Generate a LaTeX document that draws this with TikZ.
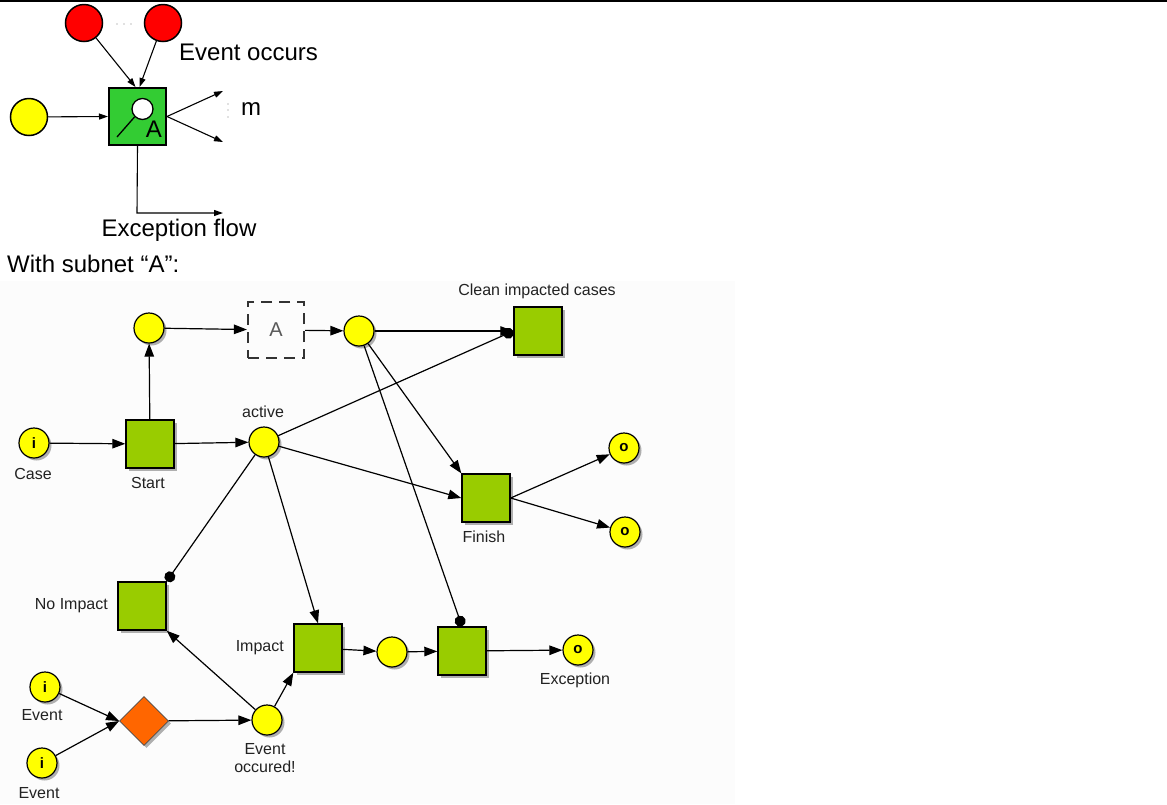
\documentclass[tikz,border=0pt]{standalone}
\usepackage{fontspec}
\setmainfont{Liberation Sans}
\usetikzlibrary{arrows.meta,shadows,shapes.geometric,calc}
\definecolor{pyellow}{HTML}{FFFF00}
\definecolor{tgreen}{HTML}{99CC00}
\definecolor{bgreen}{HTML}{33CC33}
\definecolor{pred}{HTML}{FF0000}
\definecolor{porange}{HTML}{FF6600}
\definecolor{lbl}{HTML}{222222}
\tikzset{
  big/.style={font=\fontsize{24}{27}\selectfont},
  small/.style={font=\fontsize{16}{18}\selectfont, text=lbl, inner sep=0pt},
  bigplace/.style={circle, draw=black, line width=1.5pt, minimum size=37pt, inner sep=0pt},
  toparrow/.style={line width=1.1pt, -{Triangle[length=9pt,width=6pt]}},
  shad/.style={drop shadow={shadow xshift=2.5pt,shadow yshift=-2.5pt,opacity=0.3,fill=black}},
  place/.style={circle, draw=black, line width=1.2pt, fill=pyellow, minimum size=30pt, inner sep=0pt, shad},
  ioplace/.style={place, font=\fontsize{15}{15}\selectfont\bfseries},
  trans/.style={rectangle, draw=black, line width=1.4pt, fill=tgreen, minimum size=48pt, inner sep=0pt, shad},
  arc/.style={line width=1.2pt, -{Triangle[length=13pt,width=9.5pt]}},
  resetarc/.style={line width=1.2pt, -{Circle[length=11pt]}},
}
\begin{document}
\begin{tikzpicture}[x=1pt,y=-1pt]
\useasboundingbox (0,0) rectangle (1167,804);
\fill[white] (0,0) rectangle (1167,804);
% rule at the top
\draw[line width=2pt] (0,1) -- (1167,1);

% ---------- composite task with exception flow ----------
\node[bigplace, fill=pred] (r1) at (84,23) {};
\node[bigplace, fill=pred] (r2) at (163,23) {};
\foreach \x in {117,124,131} \fill[gray] (\x,24) circle (0.7pt);
\node[bigplace, fill=pyellow] (y0) at (29,117) {};
\node[rectangle, draw=black, line width=2pt, fill=bgreen, minimum size=57pt, inner sep=0pt] (ta) at (137.5,116.5) {};
\node[circle, draw=black, line width=1.3pt, fill=white, minimum size=21pt, inner sep=0pt] (lens) at (142.5,109) {};
\draw[line width=1.3pt] (lens.225) -- (117,137);
\node[big, inner sep=0pt] (la) at (154,129) {A};
\draw[toparrow] (y0) -- (ta.west);
\draw[toparrow] (r1) -- ($(ta.north)+(-2,0)$);
\draw[toparrow] (r2) -- ($(ta.north)+(2,0)$);
\coordinate (m1) at (223,91);
\coordinate (m2) at (223,142);
\draw[toparrow] (ta.east) -- (m1);
\draw[toparrow] (ta.east) -- (m2);
\foreach \y in {104,110,117} \fill[gray] (228,\y) circle (0.6pt);
\node[big, anchor=west, inner sep=0pt] (mlab) at (241,109) {m};
\node[big, anchor=west, inner sep=0pt] (evlab) at (179,52) {Event occurs};
\coordinate (bend) at (137,213);
\coordinate (exend) at (223,213);
\draw[toparrow] (ta.south) -- (bend) -- (exend);
\node[big, inner sep=0pt] (exflow) at (179,230) {Exception flow};
\node[big, anchor=west, inner sep=0pt] (withsub) at (7,264) {With subnet “A”:};

% ---------- subnet A ----------
\fill[black!1] (0,281) rectangle (735,804);

\node[place] (p1) at (149,328) {};
\node[rectangle, draw=black!80, line width=2.2pt, dash pattern=on 11pt off 7pt, minimum size=56pt, inner sep=0pt, font=\fontsize{20}{20}\selectfont, text=black!65] (sub) at (276,330) {A};
\node[place] (p2) at (359,331) {};
\node[trans] (clean) at (538,331) {};
\node[small, anchor=south] (lclean) at (537,299) {Clean impacted cases};

\node[ioplace] (case) at (34,443) {i};
\node[small] (lcase) at (33,474) {Case};
\node[trans] (start) at (150,444) {};
\node[small] (lstart) at (148,483) {Start};
\node[place] (active) at (264,442) {};
\node[small] (lactive) at (263,412) {active};

\node[trans] (finish) at (486,498) {};
\node[small] (lfinish) at (484,537) {Finish};
\node[ioplace] (o1) at (624,448) {o};
\node[ioplace] (o2) at (625,532) {o};

\node[trans] (noimp) at (142,606) {};
\node[small, anchor=east] (lnoimp) at (108,606) {No Impact};
\node[trans] (impact) at (318,648) {};
\node[small, anchor=east] (limpact) at (284,648) {Impact};
\node[place] (p3) at (392,652) {};
\node[trans] (exc) at (462,651) {};
\node[ioplace] (oexc) at (578,650) {o};
\node[small] (lexc) at (575,680) {Exception};

\node[ioplace] (ev1) at (45,687) {i};
\node[small] (lev1) at (42,715) {Event};
\node[ioplace] (ev2) at (42,763) {i};
\node[small] (lev2) at (39,793) {Event};
\node[diamond, draw=black!70, line width=0.8pt, fill=porange, minimum size=49pt, inner sep=0pt, shad] (xor) at (144,721) {};
\node[place] (eo) at (267,720) {};
\node[small, align=center, font=\fontsize{16}{18.5}\selectfont] (leo) at (265,758) {Event\\occured!};

% arcs
\draw[arc] (case) -- (start);
\draw[arc] (start) -- (active);
\draw[arc] (start) -- (p1);
\draw[arc] (p1) -- (sub);
\draw[arc] (sub) -- (p2);
\draw[arc] (p2) -- (clean.west);
\draw[resetarc] (active) -- (clean.west);
\draw[arc] (p2) -- (finish.north west);
\draw[arc] (active) -- (finish.west);
\draw[arc] (finish.east) -- (o1);
\draw[arc] (finish.east) -- (o2);
\draw[resetarc] (p2) -- (exc.north);
\draw[resetarc] (active) -- (noimp.north east);
\draw[arc] (active) -- (impact.north);
\draw[arc] (eo) -- (noimp.south east);
\draw[arc] (eo) -- (impact.south west);
\draw[arc] (impact) -- (p3);
\draw[arc] (p3) -- (exc);
\draw[arc] (exc) -- (oexc);
\draw[arc] (ev1) -- (xor.west);
\draw[arc] (ev2) -- (xor.west);
\draw[arc] (xor) -- (eo);
\end{tikzpicture}
\end{document}
